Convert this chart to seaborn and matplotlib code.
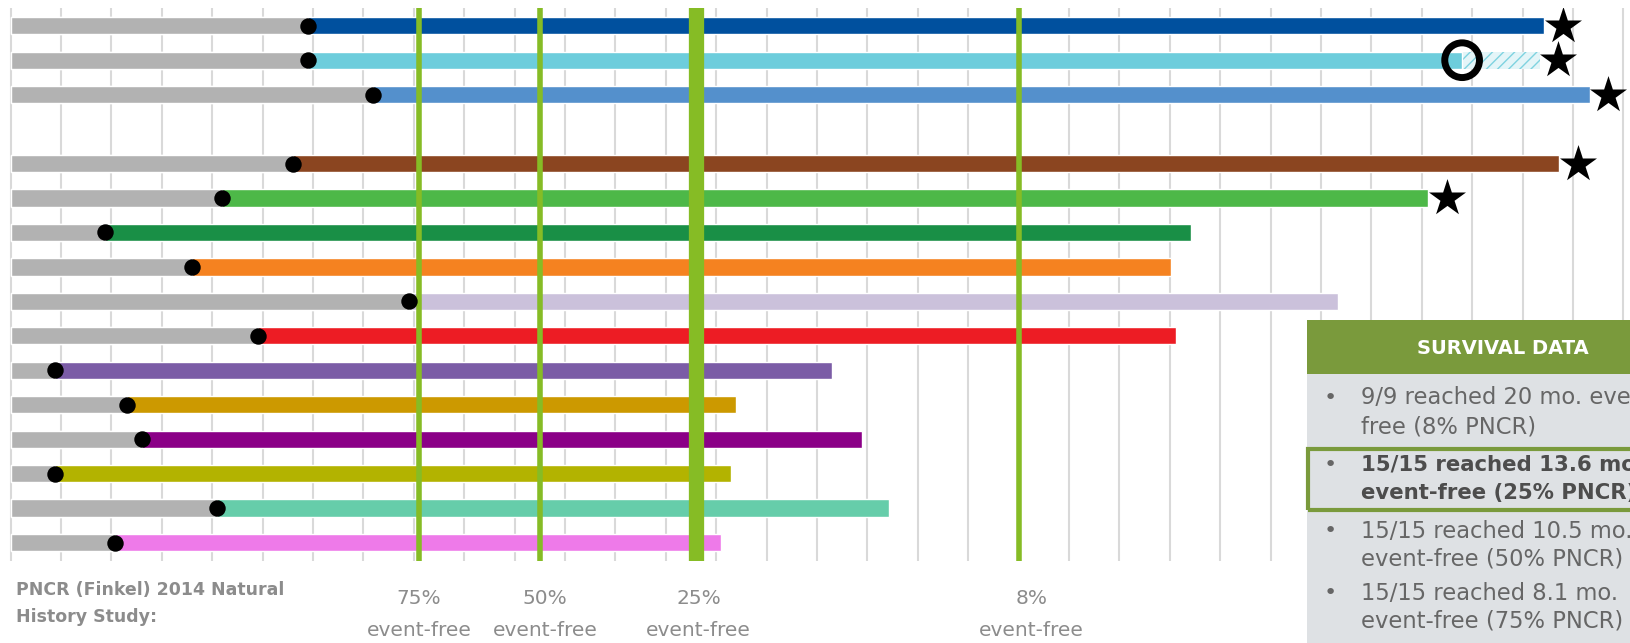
import matplotlib
matplotlib.use('Agg')
import matplotlib.pyplot as plt
from matplotlib.patches import Rectangle
from matplotlib.transforms import blended_transform_factory
import pandas as pd
import seaborn as sns

# rows top to bottom, '' is the blank slot between the two groups
patients = ['P1', 'P2', 'P3', 'P4', 'P5', 'P6', 'P7', 'P8',
            'P9', 'P10', 'P11', 'P12', 'P13', 'P14', 'P15']
row_order = ['P1', 'P2', 'P3', '', 'P4', 'P5', 'P6', 'P7', 'P8',
             'P9', 'P10', 'P11', 'P12', 'P13', 'P14', 'P15']

# months: start of treatment (black dot) and end of follow-up
dose_start = [5.9, 5.9, 7.2, 5.6, 4.2, 1.88, 3.6, 7.9,
              4.9, 0.88, 2.3, 2.6, 0.88, 4.1, 2.08]
follow_up = [30.43, 28.8, 31.34, 30.73, 28.13, 23.42, 23.02, 26.33,
             23.12, 16.3, 14.4, 16.9, 14.3, 17.42, 14.1]
bar_colors = ['#00509E', '#6DCDDC', '#5490CC', '#8B4520', '#4DB848',
              '#198F46', '#F58220', '#CBC1DB', '#ED1C24', '#7B5CA6',
              '#CC9900', '#8B0087', '#B3B300', '#66CDAA', '#EE7AE9']

# patient with event (open circle) and projected follow-up (hatched)
event_patient = 'P2'
event_month = 28.8
projected_end = 30.35

# ongoing patients (star)
star_patients = ['P1', 'P2', 'P3', 'P4', 'P5']
star_month = [30.8, 30.7, 31.7, 31.1, 28.5]

# PNCR natural history milestones
pncr_months = [8.1, 10.5, 13.6, 20.0]
pncr_labels = ['75%', '50%', '25%', '8%']
pncr_width = [4, 4, 11, 4]
pncr_label_x = [8.1, 10.6, 13.65, 20.25]

survival_items = [
    ('9/9 reached 20 mo. event-', 'free (8% PNCR)'),
    ('15/15 reached 13.6 mo.', 'event-free (25% PNCR)'),
    ('15/15 reached 10.5 mo.', 'event-free (50% PNCR)'),
    ('15/15 reached 8.1 mo.', 'event-free (75% PNCR)'),
]

W, H = 1631, 643
GREEN = '#86BC25'
BOX_GREEN = '#7A9A3C'

sns.set_style('white')
plt.rcParams['font.family'] = ['DejaVu Sans']

fig = plt.figure(figsize=(W / 100, H / 100), dpi=100)
ax = fig.add_axes([0, 1 - 561 / H, 1, (561 - 8) / H])

df = pd.DataFrame({'patient': patients, 'start': dose_start,
                   'end': follow_up})
palette = dict(zip(patients, bar_colors))
bw = 0.5

# hatched projection behind the solid bar
proj = pd.DataFrame({'patient': [event_patient], 'end': [projected_end]})
sns.barplot(data=proj, x='end', y='patient', order=row_order, orient='h',
            color='#E4F5F8', saturation=1, width=bw, errorbar=None,
            hatch='///', edgecolor='#7FD3E0', linewidth=0, ax=ax)
sns.barplot(data=df, x='end', y='patient', hue='patient', order=row_order,
            palette=palette, orient='h', saturation=1, width=bw,
            errorbar=None, legend=False, ax=ax)
sns.barplot(data=df, x='start', y='patient', order=row_order, orient='h',
            color='#B2B2B2', saturation=1, width=bw, errorbar=None, ax=ax)

ypos = {p: row_order.index(p) for p in patients}

for m, w in zip(pncr_months, pncr_width):
    ax.axvline(m, color=GREEN, linewidth=w, zorder=3)

ax.scatter(dose_start, [ypos[p] for p in patients], s=140, color='black',
           zorder=4, linewidths=0)
ax.scatter([event_month], [ypos[event_patient]], s=25 ** 2,
           facecolors='none', edgecolors='black', linewidths=5, zorder=4)
ax.scatter(star_month, [ypos[p] for p in star_patients], marker='*',
           s=28 ** 2, color='black', linewidths=0, zorder=5)

ax.set_xlim(-10.6 / 50.4, (W - 10.6) / 50.4)
ax.set_ylim((561 - 25.75) / 34.45, (8 - 25.75) / 34.45)
ax.set_xticks(range(0, 33))
ax.set_axisbelow(True)
ax.grid(axis='x', color='#D9D9D9', linewidth=1.5)
ax.grid(axis='y', visible=False)
ax.tick_params(length=0, labelbottom=False, labelleft=False)
for s in ax.spines.values():
    s.set_visible(False)
ax.set_xlabel('')
ax.set_ylabel('')

# labels under the milestone lines
tr = blended_transform_factory(ax.transData, fig.transFigure)
for x, lab in zip(pncr_label_x, pncr_labels):
    ax.text(x, 1 - 599 / H, lab, transform=tr, ha='center', va='center',
            fontsize=14.5, color='#8C8C8C')
    ax.text(x, 1 - 630 / H, 'event-free', transform=tr, ha='center',
            va='center', fontsize=14.5, color='#8C8C8C')

fig.text(16 / W, 1 - 590 / H, 'PNCR (Finkel) 2014 Natural', ha='left',
         va='center', fontsize=12.5, fontweight='bold', color='#8C8C8C')
fig.text(16 / W, 1 - 617 / H, 'History Study:', ha='left', va='center',
         fontsize=12.5, fontweight='bold', color='#8C8C8C')

# survival data panel
def px(x, y):
    return x / W, 1 - y / H

fig.add_artist(Rectangle(px(1306.7, 374), (W + 50 - 1306.7) / W, (374 - 320) / H,
                         facecolor=BOX_GREEN, edgecolor='none',
                         transform=fig.transFigure))
fig.add_artist(Rectangle(px(1306.7, H + 10), (W + 50 - 1306.7) / W, (H + 10 - 374) / H,
                         facecolor='#DEE1E4', edgecolor='none',
                         transform=fig.transFigure))
fig.add_artist(Rectangle(px(1308, 509.5), (W + 50 - 1308) / W, (509.5 - 448.5) / H,
                         facecolor='none', edgecolor=BOX_GREEN, linewidth=3,
                         transform=fig.transFigure))
fig.text(*px(1503, 348), 'SURVIVAL DATA', ha='center', va='center',
         fontsize=14, fontweight='bold', color='white')

line_y = [(398, 427), (465, 493), (531.5, 558.5), (593, 621.5)]
for i, ((l1, l2), (y1, y2)) in enumerate(zip(survival_items, line_y)):
    bold = i == 1
    kw = dict(ha='left', va='center', fontsize=15.3 if bold else 16.3,
              fontweight='bold' if bold else 'normal',
              color='#4D4D4D' if bold else '#666666')
    fig.text(*px(1330, y1), '\u2022', ha='center', va='center',
             fontsize=16, color='#666666')
    fig.text(*px(1361, y1), l1, **kw)
    fig.text(*px(1361, y2), l2, **kw)

fig.savefig('out.png', dpi=100)
